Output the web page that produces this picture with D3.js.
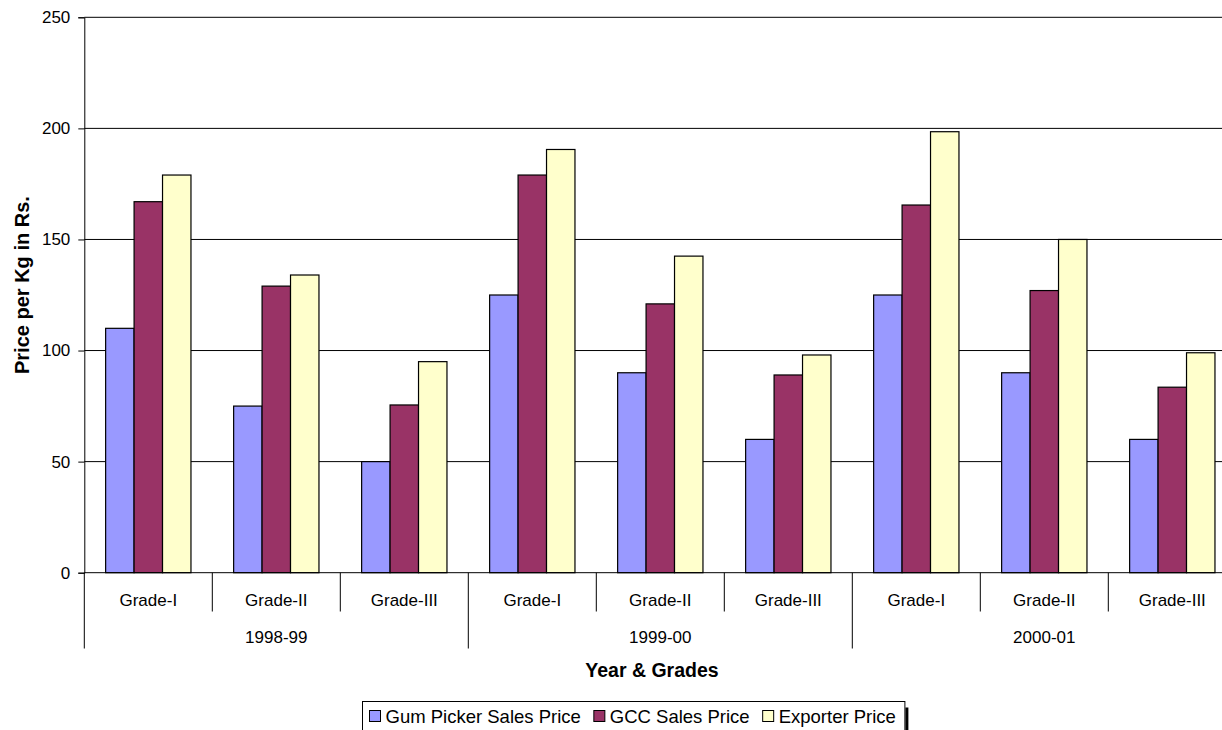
<!DOCTYPE html>
<html>
<head>
<meta charset="utf-8">
<script src="https://cdn.jsdelivr.net/npm/d3@7/dist/d3.min.js"></script>
<style>
  html, body { margin: 0; padding: 0; background: #fff; }
  svg { display: block; font-family: Arial, "Liberation Sans", sans-serif; }
</style>
</head>
<body>
<svg id="chart" width="1222" height="730"></svg>
<script>
// Price per kg (Rs.) by year and grade
const years = ["1998-99", "1999-00", "2000-01"];
const grades = ["Grade-I", "Grade-II", "Grade-III"];
const seriesNames = ["Gum Picker Sales Price", "GCC Sales Price", "Exporter Price"];
const seriesColors = ["#9999FF", "#993366", "#FFFFCC"];

// one value per year/grade pair, in the order of years × grades
const gumPickerPrice = [110, 75, 50, 125, 90, 60, 125, 90, 60];
const gccPrice       = [167, 129, 75.5, 179, 121, 89, 165.5, 127, 83.5];
const exporterPrice  = [179, 134, 95, 190.5, 142.5, 98, 198.5, 150, 99];
const yTicks = [0, 50, 100, 150, 200, 250];

const seriesValues = [gumPickerPrice, gccPrice, exporterPrice];
const categories = [];
years.forEach(y => grades.forEach(g => categories.push({ year: y, grade: g, key: y + "|" + g })));

const svg = d3.select("#chart");

const plotLeft = 84.3, plotTop = 17.3, plotBottom = 572.7;
const bandW = 128;
const plotRight = plotLeft + bandW * categories.length;

const x = d3.scaleBand()
  .domain(categories.map(d => d.key))
  .range([plotLeft, plotRight])
  .padding(0);

const xInner = d3.scaleBand()
  .domain(d3.range(seriesNames.length))
  .range([0, x.bandwidth()])
  .paddingInner(0)
  .paddingOuter(0.75);

const y = d3.scaleLinear().domain([0, 250]).range([plotBottom, plotTop]);

// gridlines
svg.append("g")
  .selectAll("line")
  .data(yTicks.filter(t => t > 0))
  .join("line")
  .attr("x1", plotLeft).attr("x2", plotRight)
  .attr("y1", d => y(d)).attr("y2", d => y(d))
  .attr("stroke", "#000").attr("stroke-width", 1);

// y axis
const yAxis = d3.axisLeft(y).tickValues(yTicks).tickSize(6).tickPadding(8);
const yg = svg.append("g").attr("transform", `translate(${plotLeft},0)`).call(yAxis);
yg.select(".domain").attr("stroke", "#000");
yg.selectAll(".tick line").attr("stroke", "#000");
yg.selectAll(".tick text")
  .attr("font-size", 17).attr("fill", "#000")
  .attr("font-family", "Arial, 'Liberation Sans', sans-serif");

// bars
const barG = svg.append("g");
categories.forEach((c, ci) => {
  seriesValues.forEach((vals, si) => {
    const v = vals[ci];
    barG.append("rect")
      .attr("x", x(c.key) + xInner(si))
      .attr("y", y(v))
      .attr("width", xInner.bandwidth())
      .attr("height", y(0) - y(v))
      .attr("fill", seriesColors[si])
      .attr("stroke", "#000")
      .attr("stroke-width", 1.2);
  });
});

// x axis line
svg.append("line")
  .attr("x1", plotLeft).attr("x2", plotRight)
  .attr("y1", y(0)).attr("y2", y(0))
  .attr("stroke", "#000");

// category separators: short between grades, long between years
const xg = svg.append("g");
const boundaries = d3.range(categories.length + 1);
boundaries.forEach(i => {
  const bx = i < categories.length ? x(categories[i].key) : plotRight;
  const isYear = i % grades.length === 0;
  xg.append("line")
    .attr("x1", bx).attr("x2", bx)
    .attr("y1", y(0)).attr("y2", isYear ? 648.5 : 611.5)
    .attr("stroke", "#000");
});

// grade labels
xg.selectAll("text.grade")
  .data(categories)
  .join("text")
  .attr("class", "grade")
  .attr("x", d => x(d.key) + x.bandwidth() / 2)
  .attr("y", 606)
  .attr("text-anchor", "middle")
  .attr("font-size", 17)
  .text(d => d.grade);

// year labels
xg.selectAll("text.year")
  .data(years)
  .join("text")
  .attr("class", "year")
  .attr("x", (d, i) => x(categories[i * grades.length].key) + x.bandwidth() * grades.length / 2)
  .attr("y", 643)
  .attr("text-anchor", "middle")
  .attr("font-size", 17)
  .text(d => d);

// axis titles
svg.append("text")
  .attr("x", 652).attr("y", 677)
  .attr("text-anchor", "middle")
  .attr("font-size", 19.5).attr("font-weight", "bold")
  .text("Year & Grades");

svg.append("text")
  .attr("transform", `translate(28.5,374) rotate(-90)`)
  .attr("text-anchor", "start")
  .attr("font-size", 20).attr("font-weight", "bold")
  .text("Price per Kg in Rs.");

// legend
const legend = svg.append("g");
const legLeft = 362.5, legTop = 701.5;
let cx = legLeft + 7;
seriesNames.forEach((name, i) => {
  const g = legend.append("g");
  g.append("rect")
    .attr("x", cx).attr("y", 710.5)
    .attr("width", 11).attr("height", 11)
    .attr("fill", seriesColors[i]).attr("stroke", "#000");
  const t = g.append("text")
    .attr("x", cx + 16).attr("y", 722.5)
    .attr("font-size", 18.5)
    .text(name);
  const w = t.node().getComputedTextLength();
  cx = cx + 16 + w + 13;
});
const legRight = cx - 4;
legend.insert("rect", ":first-child")
  .attr("x", legLeft).attr("y", legTop)
  .attr("width", legRight - legLeft).attr("height", 40)
  .attr("fill", "#fff").attr("stroke", "#000");
// drop shadow on the legend's right side
legend.append("rect")
  .attr("x", legRight + 0.5).attr("y", legTop + 6)
  .attr("width", 3).attr("height", 40)
  .attr("fill", "#000");
</script>
</body>
</html>
